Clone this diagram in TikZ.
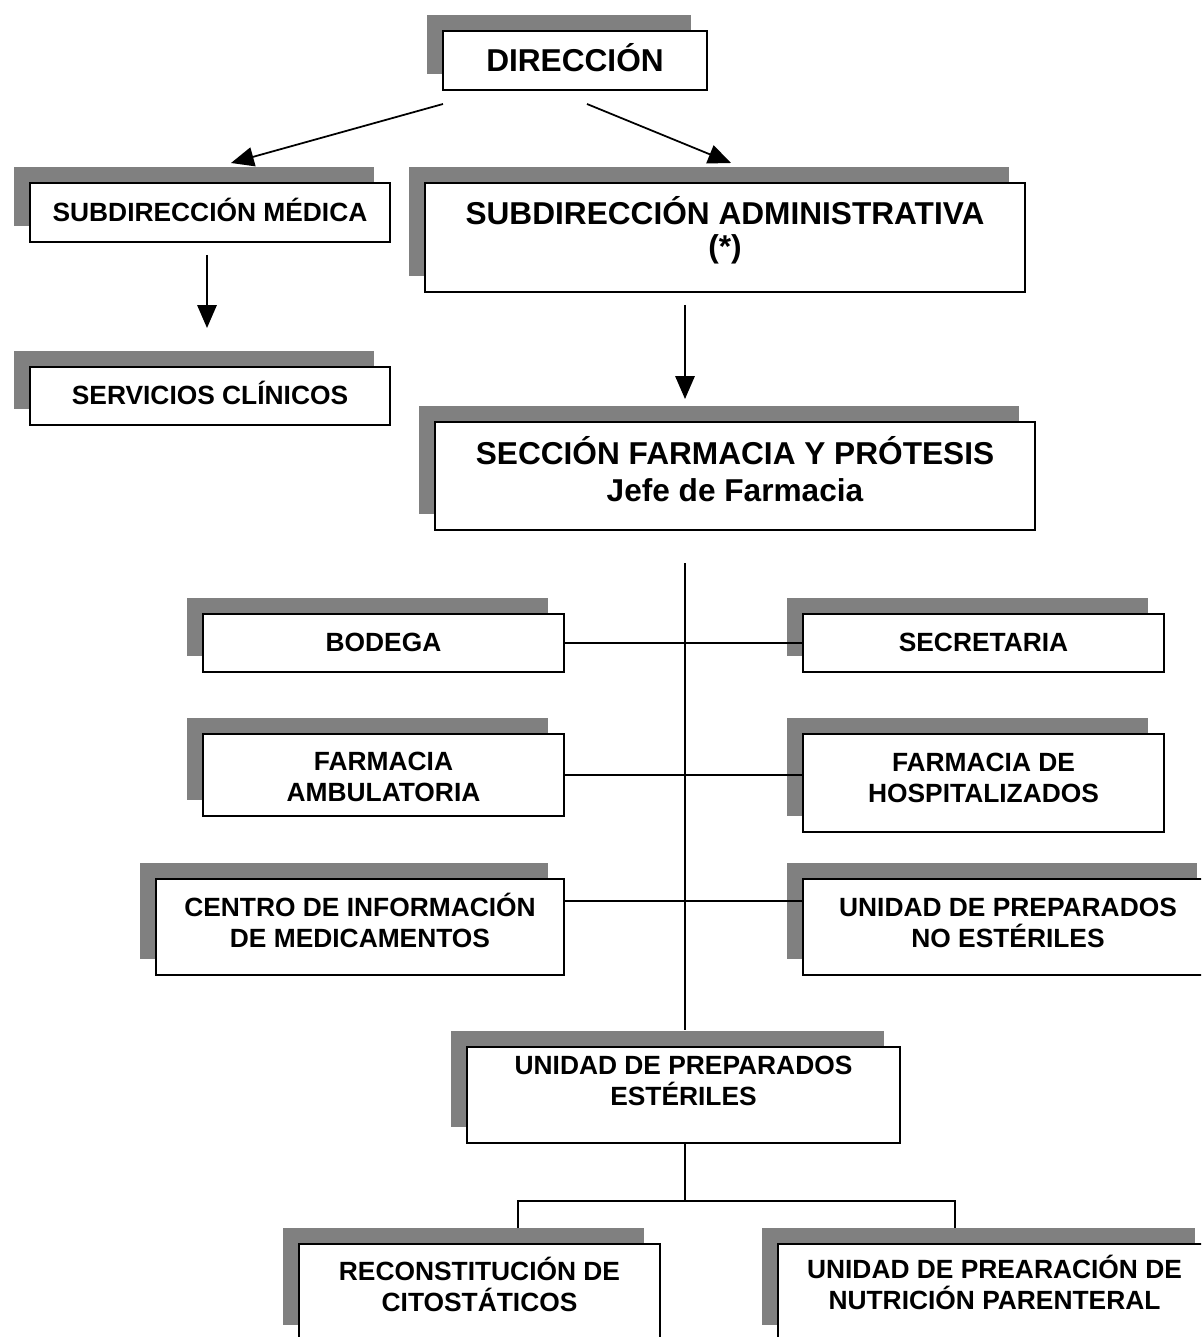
\documentclass[tikz,border=0pt]{standalone}
\usepackage{fontspec}
\setmainfont{Liberation Sans}
\usetikzlibrary{arrows.meta,shadows,calc}
\definecolor{shadowgray}{RGB}{128,128,128}
\newdimen\pxu \pxu=0.02cm
\begin{document}
\begin{tikzpicture}[x=0.02cm, y=-0.02cm,
 orgbox/.style={draw=black, line width=1pt, fill=white, inner sep=0pt,
   general shadow={fill=shadowgray, shadow xshift=-16\pxu, shadow yshift=16\pxu}},
 bigtxt/.style={font=\fontsize{18}{21}\selectfont\bfseries, align=center, anchor=base, inner sep=0pt},
 smalltxt/.style={font=\fontsize{15}{17.6}\selectfont\bfseries, align=center, anchor=base, inner sep=0pt},
 conn/.style={line width=1pt},
 arr/.style={conn, -{Triangle[length=13pt,width=11pt]}}]
\clip (0,0) rectangle (1201,1337);
\fill[white] (0,0) rectangle (1201,1337);

% boxes
\node[orgbox, minimum width=264\pxu, minimum height=59\pxu] (dir) at (575,60.5) {};
\node[orgbox, minimum width=360\pxu, minimum height=59\pxu] (subm) at (210,212.5) {};
\node[orgbox, minimum width=600\pxu, minimum height=109\pxu] (suba) at (725,237.5) {};
\node[orgbox, minimum width=360\pxu, minimum height=58\pxu] (serv) at (210,396) {};
\node[orgbox, minimum width=600\pxu, minimum height=108\pxu] (secc) at (735,476) {};
\node[orgbox, minimum width=361\pxu, minimum height=58\pxu] (bod) at (383.5,643) {};
\node[orgbox, minimum width=361\pxu, minimum height=58\pxu] (secr) at (983.5,643) {};
\node[orgbox, minimum width=361\pxu, minimum height=82\pxu] (amb) at (383.5,775) {};
\node[orgbox, minimum width=361\pxu, minimum height=98\pxu] (hosp) at (983.5,783) {};
\node[orgbox, minimum width=408\pxu, minimum height=96\pxu] (cim) at (360,927) {};
\node[orgbox, minimum width=410\pxu, minimum height=96\pxu] (noest) at (1008,927) {};
\node[orgbox, minimum width=433\pxu, minimum height=96\pxu] (est) at (683.5,1095) {};
\node[orgbox, minimum width=361\pxu, minimum height=97\pxu] (rec) at (479.5,1292.5) {};
\node[orgbox, minimum width=433\pxu, minimum height=97\pxu] (prear) at (994.5,1292.5) {};

% texts (anchor = baseline of the last line)
\node[bigtxt] (dirt) at (575,71.3) {DIRECCIÓN};
\node[smalltxt] (submt) at (210,221.4) {SUBDIRECCIÓN MÉDICA};
\node[bigtxt] (subat) at (725,257.5) {SUBDIRECCIÓN ADMINISTRATIVA\\[-2.5pt](*)};
\node[smalltxt] (servt) at (210,404.4) {SERVICIOS CLÍNICOS};
\node[bigtxt] (secct) at (735,501.2) {SECCIÓN FARMACIA Y PRÓTESIS\\Jefe de Farmacia};
\node[smalltxt] (bodt) at (383.5,651) {BODEGA};
\node[smalltxt] (secrt) at (983.5,651) {SECRETARIA};
\node[smalltxt] (ambt) at (383.5,801.9) {FARMACIA\\AMBULATORIA};
\node[smalltxt] (hospt) at (983.5,802.9) {FARMACIA DE\\HOSPITALIZADOS};
\node[smalltxt] (cimt) at (360,947.9) {CENTRO DE INFORMACIÓN\\DE MEDICAMENTOS};
\node[smalltxt] (noestt) at (1008,947.9) {UNIDAD DE PREPARADOS\\NO ESTÉRILES};
\node[smalltxt] (estt) at (683.5,1105) {UNIDAD DE PREPARADOS\\ESTÉRILES};
\node[smalltxt] (rect) at (479.5,1311.9) {RECONSTITUCIÓN DE\\CITOSTÁTICOS};
\node[smalltxt] (preart) at (994.5,1309.9) {UNIDAD DE PREARACIÓN DE\\NUTRICIÓN PARENTERAL};

% arrows
\coordinate (a1s) at (443,104);
\coordinate (a1e) at (231,163);
\coordinate (a2s) at (587,104);
\coordinate (a2e) at (731,163);
\draw[arr] (a1s) -- (a1e);
\draw[arr] (a2s) -- (a2e);
\coordinate (a3s) at (207,255);
\coordinate (a3e) at (207,328);
\draw[arr] (a3s) -- (a3e);
\coordinate (a4s) at (685,305);
\coordinate (a4e) at (685,399);
\draw[arr] (a4s) -- (a4e);

% spine
\coordinate (sp1) at (685,563);
\draw[conn] (sp1) -- (sp1 |- {$(est.north)+(0,-16)$});

% rows
\draw[conn] (bod.east) -- (secr.west);
\draw[conn] (amb.east) -- (amb.east -| hosp.west);
\coordinate (r3l) at ($(cim.north east)+(0,23)$);
\draw[conn] (r3l) -- (r3l -| noest.west);

% bottom tree
\coordinate (bl) at (518,1201);
\coordinate (br) at (955,1201);
\draw[conn] (sp1 |- est.south) -- (sp1 |- bl);
\draw[conn] (bl) ++(0,27) -- (bl) -- (br) -- ++(0,27);
\end{tikzpicture}
\end{document}
